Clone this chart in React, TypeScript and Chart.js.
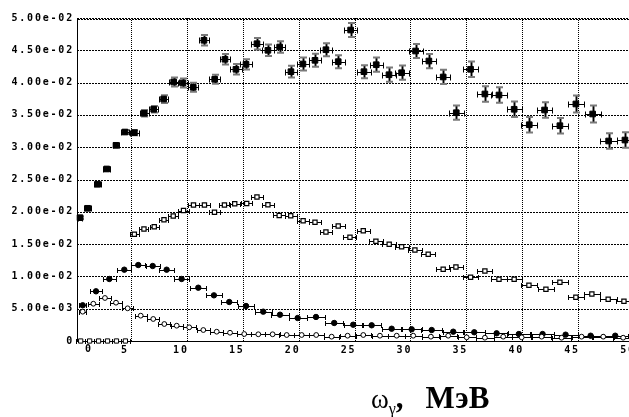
import { useEffect, useRef } from "react";
import { Chart, registerables } from "chart.js";

Chart.register(...registerables);

// Spectrum 1: filled squares, x and y uncertainties (MeV, value)
const S1_X = [0.44, 1.13, 2.02, 2.83, 3.66, 4.46, 5.3, 6.19, 7.03, 7.92, 8.82, 9.65, 10.57, 11.53, 12.49, 13.41, 14.39, 15.29, 16.27, 17.25, 18.3, 19.31, 20.38, 21.46, 22.44, 23.54, 24.65, 25.84, 26.94, 28.08, 29.21, 30.46, 31.65, 32.93, 34.1, 35.38, 36.66, 37.92, 39.28, 40.63, 42.0, 43.37, 44.8, 46.3, 47.73, 49.19];
const S1_Y = [0.01909, 0.02054, 0.02426, 0.02663, 0.03029, 0.03235, 0.03225, 0.03525, 0.03587, 0.03746, 0.0401, 0.03994, 0.03927, 0.04655, 0.04051, 0.04361, 0.04206, 0.04283, 0.04602, 0.045, 0.04551, 0.04169, 0.04288, 0.04345, 0.04509, 0.04324, 0.04814, 0.04169, 0.04277, 0.04122, 0.04153, 0.04489, 0.04334, 0.04087, 0.03534, 0.04206, 0.03824, 0.03808, 0.03587, 0.03348, 0.03576, 0.03333, 0.03669, 0.03514, 0.03096, 0.03111];
const S1_XERR = [0.22, 0.3, 0.3, 0.3, 0.3, 0.35, 0.4, 0.4, 0.4, 0.4, 0.45, 0.45, 0.45, 0.48, 0.48, 0.48, 0.5, 0.5, 0.52, 0.52, 0.52, 0.52, 0.55, 0.55, 0.55, 0.58, 0.58, 0.6, 0.6, 0.6, 0.62, 0.62, 0.62, 0.65, 0.65, 0.65, 0.68, 0.68, 0.68, 0.7, 0.7, 0.7, 0.72, 0.72, 0.75, 0.75];
const S1_YERR = [0.0002, 0.0002, 0.0002, 0.0003, 0.0003, 0.0003, 0.0004, 0.0005, 0.0005, 0.0006, 0.0007, 0.0007, 0.0007, 0.0008, 0.0007, 0.0008, 0.0008, 0.0008, 0.0009, 0.0009, 0.0009, 0.0009, 0.001, 0.001, 0.001, 0.001, 0.0011, 0.001, 0.0011, 0.0011, 0.0011, 0.0011, 0.0011, 0.0011, 0.0011, 0.0012, 0.0012, 0.0012, 0.0012, 0.0012, 0.0012, 0.0012, 0.0013, 0.0013, 0.0012, 0.0012];

// Spectrum 2: open squares
const S2_X = [5.3, 6.16, 7.08, 7.95, 8.78, 9.7, 10.59, 11.57, 12.47, 13.36, 14.28, 15.35, 16.27, 17.25, 18.26, 19.29, 20.4, 21.46, 22.44, 23.54, 24.59, 25.78, 26.91, 28.1, 29.21, 30.4, 31.59, 32.93, 34.07, 35.38, 36.66, 37.92, 39.28, 40.6, 42.12, 43.37, 44.8, 46.23, 47.69, 49.1];
const S2_Y = [0.01652, 0.01734, 0.01769, 0.01878, 0.01935, 0.0202, 0.02105, 0.02105, 0.01992, 0.02105, 0.02125, 0.02129, 0.02229, 0.0211, 0.01943, 0.0194, 0.01861, 0.01838, 0.01687, 0.0178, 0.01605, 0.01707, 0.01543, 0.01497, 0.0146, 0.01409, 0.01342, 0.0111, 0.01146, 0.00986, 0.01084, 0.00955, 0.00955, 0.00862, 0.008, 0.00909, 0.00676, 0.00728, 0.00646, 0.00615];
const S2_XERR = [0.4, 0.4, 0.4, 0.4, 0.45, 0.45, 0.45, 0.48, 0.48, 0.48, 0.5, 0.5, 0.52, 0.52, 0.52, 0.52, 0.55, 0.55, 0.55, 0.58, 0.58, 0.6, 0.6, 0.6, 0.62, 0.62, 0.62, 0.65, 0.65, 0.65, 0.68, 0.68, 0.68, 0.7, 0.7, 0.7, 0.72, 0.72, 0.75, 0.75];

// Spectrum 3: filled circles
const S3_X = [0.68, 1.87, 3.06, 4.4, 5.65, 6.94, 8.19, 9.53, 11.02, 12.42, 13.79, 15.29, 16.83, 18.33, 19.91, 21.55, 23.18, 24.88, 26.53, 28.32, 30.11, 31.9, 33.83, 35.71, 37.71, 39.7, 41.82, 43.88, 46.12, 48.32];
const S3_Y = [0.00553, 0.00769, 0.0096, 0.01104, 0.01176, 0.01161, 0.01104, 0.0096, 0.00825, 0.00707, 0.00604, 0.00542, 0.00454, 0.00407, 0.00356, 0.00372, 0.00279, 0.00252, 0.00243, 0.0019, 0.00181, 0.0017, 0.00144, 0.00135, 0.00119, 0.00108, 0.00108, 0.00098, 0.00082, 0.00082];
const S3_XERR = [0.3, 0.55, 0.6, 0.62, 0.63, 0.63, 0.65, 0.7, 0.73, 0.7, 0.72, 0.75, 0.77, 0.78, 0.8, 0.82, 0.83, 0.84, 0.86, 0.88, 0.9, 0.92, 0.95, 0.97, 1.0, 1.02, 1.05, 1.08, 1.1, 1.12];

// Spectrum 4: open circles
const S4_X = [0.68, 1.63, 2.67, 3.66, 4.7, 5.87, 6.99, 7.98, 9.09, 10.21, 11.47, 12.67, 13.86, 15.13, 16.39, 17.67, 18.93, 20.27, 21.57, 22.95, 24.38, 25.78, 27.27, 28.77, 30.25, 31.83, 33.38, 35.03, 36.66, 38.3, 39.95, 41.74, 43.52, 45.31, 47.25, 49.03];
const S4_Y = [0.00454, 0.00577, 0.00666, 0.00593, 0.00506, 0.00392, 0.00341, 0.00263, 0.00237, 0.00212, 0.0017, 0.00144, 0.00128, 0.00108, 0.00104, 0.00104, 0.00093, 0.00093, 0.00093, 0.00067, 0.00082, 0.00093, 0.00082, 0.00082, 0.00082, 0.00067, 0.00082, 0.00057, 0.00051, 0.00067, 0.00057, 0.00067, 0.00051, 0.00067, 0.00067, 0.00051];
const S4_XERR = [0.3, 0.48, 0.5, 0.5, 0.52, 0.55, 0.52, 0.52, 0.55, 0.58, 0.6, 0.6, 0.62, 0.63, 0.64, 0.65, 0.66, 0.67, 0.68, 0.7, 0.71, 0.72, 0.74, 0.75, 0.77, 0.78, 0.8, 0.81, 0.82, 0.83, 0.85, 0.87, 0.88, 0.9, 0.92, 0.93];

// Spectrum 5: open squares lying on zero below 5 MeV
const S5_X = [0.5, 1.3, 2.1, 2.9, 3.7, 4.5];
const S5_Y = [0, 0, 0, 0, 0, 0];
const S5_XERR = [0.4, 0.4, 0.4, 0.4, 0.4, 0.4];

const X_TICKS = [5, 10, 15, 20, 25, 30, 35, 40, 45, 50];
const Y_TICKS = [0, 0.005, 0.01, 0.015, 0.02, 0.025, 0.03, 0.035, 0.04, 0.045, 0.05];
const ORIGIN_LABEL = "0";

const TICK_FONT = { family: "'DejaVu Sans Mono', monospace", size: 10, weight: "bold" as const };
const LETTER_SPACING = "1.8px";

function sciLabel(v: number): string {
  if (Math.abs(v) < 1e-12) return "0";
  const [m, e] = v.toExponential(2).split("e");
  const n = parseInt(e, 10);
  return `${m}e${n < 0 ? "-" : "+"}${String(Math.abs(n)).padStart(2, "0")}`;
}

function points(xs: number[], ys: number[]) {
  return xs.map((x, i) => ({ x, y: ys[i] }));
}

// Pixel-exact dashed rules: `on` pixels drawn, `off` pixels skipped
function hRule(ctx: CanvasRenderingContext2D, x0: number, x1: number, y: number, on: number, off: number) {
  for (let x = x0; x < x1; x += on + off) ctx.fillRect(x, y, Math.min(on, x1 - x), 1);
}
function vRule(ctx: CanvasRenderingContext2D, x: number, y0: number, y1: number, on: number, off: number) {
  for (let y = y0; y < y1; y += on + off) ctx.fillRect(x, y, 1, Math.min(on, y1 - y));
}

// Dashed grid at the tick values, plus solid left and bottom axis lines
const dottedGridPlugin = {
  id: "dottedGrid",
  beforeDatasetsDraw(chart: any) {
    const ctx: CanvasRenderingContext2D = chart.ctx;
    const xs = chart.scales.x;
    const ys = chart.scales.y;
    const left = Math.round(xs.getPixelForValue(xs.min));
    const right = Math.round(xs.getPixelForValue(xs.max));
    const top = Math.round(ys.getPixelForValue(ys.max));
    const bottom = Math.round(ys.getPixelForValue(ys.min));
    ctx.save();
    ctx.fillStyle = "#000000";
    const topValue = Y_TICKS[Y_TICKS.length - 1];
    for (const v of Y_TICKS) {
      const py = Math.round(ys.getPixelForValue(v));
      hRule(ctx, left, right, py, 2, 1);
      if (v === topValue) hRule(ctx, left + 1, right, py + 1, 2, 1);
    }
    for (const v of X_TICKS) {
      const px = Math.round(xs.getPixelForValue(v));
      if (px > right) continue;
      vRule(ctx, px, top, bottom, 1, 1);
    }
    ctx.fillRect(left, top, 1, bottom - top + 1);
    ctx.fillRect(left, bottom, right - left, 1);
    ctx.restore();
  },
};

// Horizontal / vertical uncertainty bars with end caps, painted under the markers
const errorBarsPlugin = {
  id: "errorBars",
  beforeDatasetsDraw(chart: any) {
    const { ctx } = chart;
    const xs = chart.scales.x;
    const ys = chart.scales.y;
    chart.data.datasets.forEach((ds: any) => {
      const eb = ds.errorBars;
      if (!eb) return;
      ds.data.forEach((p: any, i: number) => {
        const cx = xs.getPixelForValue(p.x);
        const cy = ys.getPixelForValue(p.y);
        const dy = eb.yErr ? eb.yErr[i] : 0;
        if (dy) {
          const y0 = ys.getPixelForValue(p.y - dy);
          const y1 = ys.getPixelForValue(p.y + dy);
          const px = Math.round(cx) + 0.5;
          ctx.save();
          ctx.strokeStyle = "#8a8a8a";
          ctx.lineWidth = 3;
          ctx.beginPath();
          ctx.moveTo(px, y0);
          ctx.lineTo(px, y1);
          ctx.stroke();
          ctx.strokeStyle = "#000";
          ctx.lineWidth = 1;
          ctx.beginPath();
          ctx.moveTo(px, y0);
          ctx.lineTo(px, y1);
          ctx.stroke();
          ctx.strokeStyle = "#7a7a7a";
          ctx.lineWidth = 2;
          ctx.beginPath();
          ctx.moveTo(px - 3.5, y0);
          ctx.lineTo(px + 3.5, y0);
          ctx.moveTo(px - 3.5, y1);
          ctx.lineTo(px + 3.5, y1);
          ctx.stroke();
          ctx.restore();
        }
        const dx = eb.xErr ? eb.xErr[i] : 0;
        if (dx) {
          const x0 = Math.round(xs.getPixelForValue(p.x - dx)) + 0.5;
          const x1 = Math.round(xs.getPixelForValue(p.x + dx)) + 0.5;
          const py = Math.round(cy) + 0.5;
          const c = eb.cap || 2.5;
          ctx.save();
          ctx.strokeStyle = "#000";
          ctx.lineWidth = 1;
          ctx.beginPath();
          ctx.moveTo(x0, py);
          ctx.lineTo(x1, py);
          ctx.moveTo(x0, py - c);
          ctx.lineTo(x0, py + c);
          ctx.moveTo(x1, py - c);
          ctx.lineTo(x1, py + c);
          ctx.stroke();
          ctx.restore();
        }
      });
    });
  },
};

// Wide-tracked tick lettering and the origin label at the axis corner
const tickTextPlugin = {
  id: "tickText",
  beforeDraw(chart: any) {
    chart.ctx.letterSpacing = LETTER_SPACING;
  },
  afterDraw(chart: any) {
    const ctx = chart.ctx;
    const xs = chart.scales.x;
    const ys = chart.scales.y;
    ctx.save();
    ctx.font = `${TICK_FONT.weight} ${TICK_FONT.size}px ${TICK_FONT.family}`;
    ctx.fillStyle = "#000";
    ctx.textAlign = "center";
    ctx.textBaseline = "middle";
    ctx.fillText(ORIGIN_LABEL, xs.getPixelForValue(xs.min) + 12, ys.getPixelForValue(ys.min) + 8);
    ctx.restore();
    ctx.letterSpacing = "0px";
  },
};

export default function App() {
  const canvasRef = useRef<HTMLCanvasElement | null>(null);

  useEffect(() => {
    document.body.style.margin = "0";
    const canvas = canvasRef.current;
    if (!canvas) return;

    const chart = new Chart(canvas, {
      type: "scatter",
      data: {
        datasets: [
          {
            label: "s5",
            data: points(S5_X, S5_Y),
            errorBars: { xErr: S5_XERR, cap: 2.5 },
            pointStyle: "rect",
            pointRadius: 3,
            pointBorderWidth: 1,
            pointBackgroundColor: "#fff",
            pointBorderColor: "#000",
            clip: false,
          },
          {
            label: "s4",
            data: points(S4_X, S4_Y),
            errorBars: { xErr: S4_XERR, cap: 2.5 },
            pointStyle: "circle",
            pointRadius: 2.4,
            pointBorderWidth: 1,
            pointBackgroundColor: "#fff",
            pointBorderColor: "#000",
            clip: false,
          },
          {
            label: "s3",
            data: points(S3_X, S3_Y),
            errorBars: { xErr: S3_XERR, cap: 2.5 },
            pointStyle: "circle",
            pointRadius: 2.7,
            pointBorderWidth: 1,
            pointBackgroundColor: "#000",
            pointBorderColor: "#000",
            clip: false,
          },
          {
            label: "s2",
            data: points(S2_X, S2_Y),
            errorBars: { xErr: S2_XERR, cap: 2.5 },
            pointStyle: "rect",
            pointRadius: 3,
            pointBorderWidth: 1.2,
            pointBackgroundColor: "#fff",
            pointBorderColor: "#000",
            clip: false,
          },
          {
            label: "s1",
            data: points(S1_X, S1_Y),
            errorBars: { xErr: S1_XERR, yErr: S1_YERR, cap: 3 },
            pointStyle: "rect",
            pointRadius: 4,
            pointBorderWidth: 1,
            pointBackgroundColor: "#000",
            pointBorderColor: "#000",
            clip: false,
          },
        ] as any,
      },
      options: {
        animation: false,
        responsive: false,
        devicePixelRatio: 1,
        layout: { padding: { top: 18, right: 16, left: 0, bottom: 0 } },
        plugins: {
          legend: { display: false },
          tooltip: { enabled: false },
          title: { display: false },
        },
        scales: {
          x: {
            type: "linear",
            min: 0.17,
            max: 50,
            afterBuildTicks: (scale: any) => {
              scale.ticks = X_TICKS.map((value) => ({ value }));
            },
            afterFit: (scale: any) => {
              scale.height = 76;
            },
            grid: { display: false, drawTicks: false },
            border: { display: false },
            ticks: {
              autoSkip: false,
              maxRotation: 0,
              padding: 3,
              labelOffset: -6,
              color: "#000",
              font: TICK_FONT,
              callback: (v: any) => String(v),
            },
          },
          y: {
            type: "linear",
            min: 0,
            max: 0.05,
            afterBuildTicks: (scale: any) => {
              scale.ticks = Y_TICKS.map((value) => ({ value }));
            },
            afterFit: (scale: any) => {
              scale.width = 77;
            },
            grid: { display: false, drawTicks: false },
            border: { display: false },
            ticks: {
              autoSkip: false,
              padding: 3,
              color: "#000",
              font: TICK_FONT,
              callback: (v: any) => sciLabel(Number(v)),
            },
          },
        },
      },
      plugins: [dottedGridPlugin, errorBarsPlugin, tickTextPlugin],
    });

    return () => chart.destroy();
  }, []);

  return (
    <div
      style={{
        position: "fixed",
        left: 0,
        top: 0,
        width: 629,
        height: 417,
        overflow: "hidden",
        background: "#fff",
      }}
    >
      <canvas ref={canvasRef} width={650} height={417} style={{ display: "block" }} />
      <div
        style={{
          position: "absolute",
          left: 371,
          top: 382,
          fontFamily: "'Liberation Serif', 'Times New Roman', serif",
          fontSize: 31,
          lineHeight: "31px",
          whiteSpace: "nowrap",
          color: "#000",
        }}
      >
        <span style={{ fontWeight: "normal", fontSize: 27 }}>ω</span>
        <span style={{ fontSize: 16, position: "relative", top: 6 }}>γ</span>
        <span style={{ fontWeight: "bold" }}>,</span>
        <span style={{ fontWeight: "bold", marginLeft: 22 }}>МэВ</span>
      </div>
    </div>
  );
}
